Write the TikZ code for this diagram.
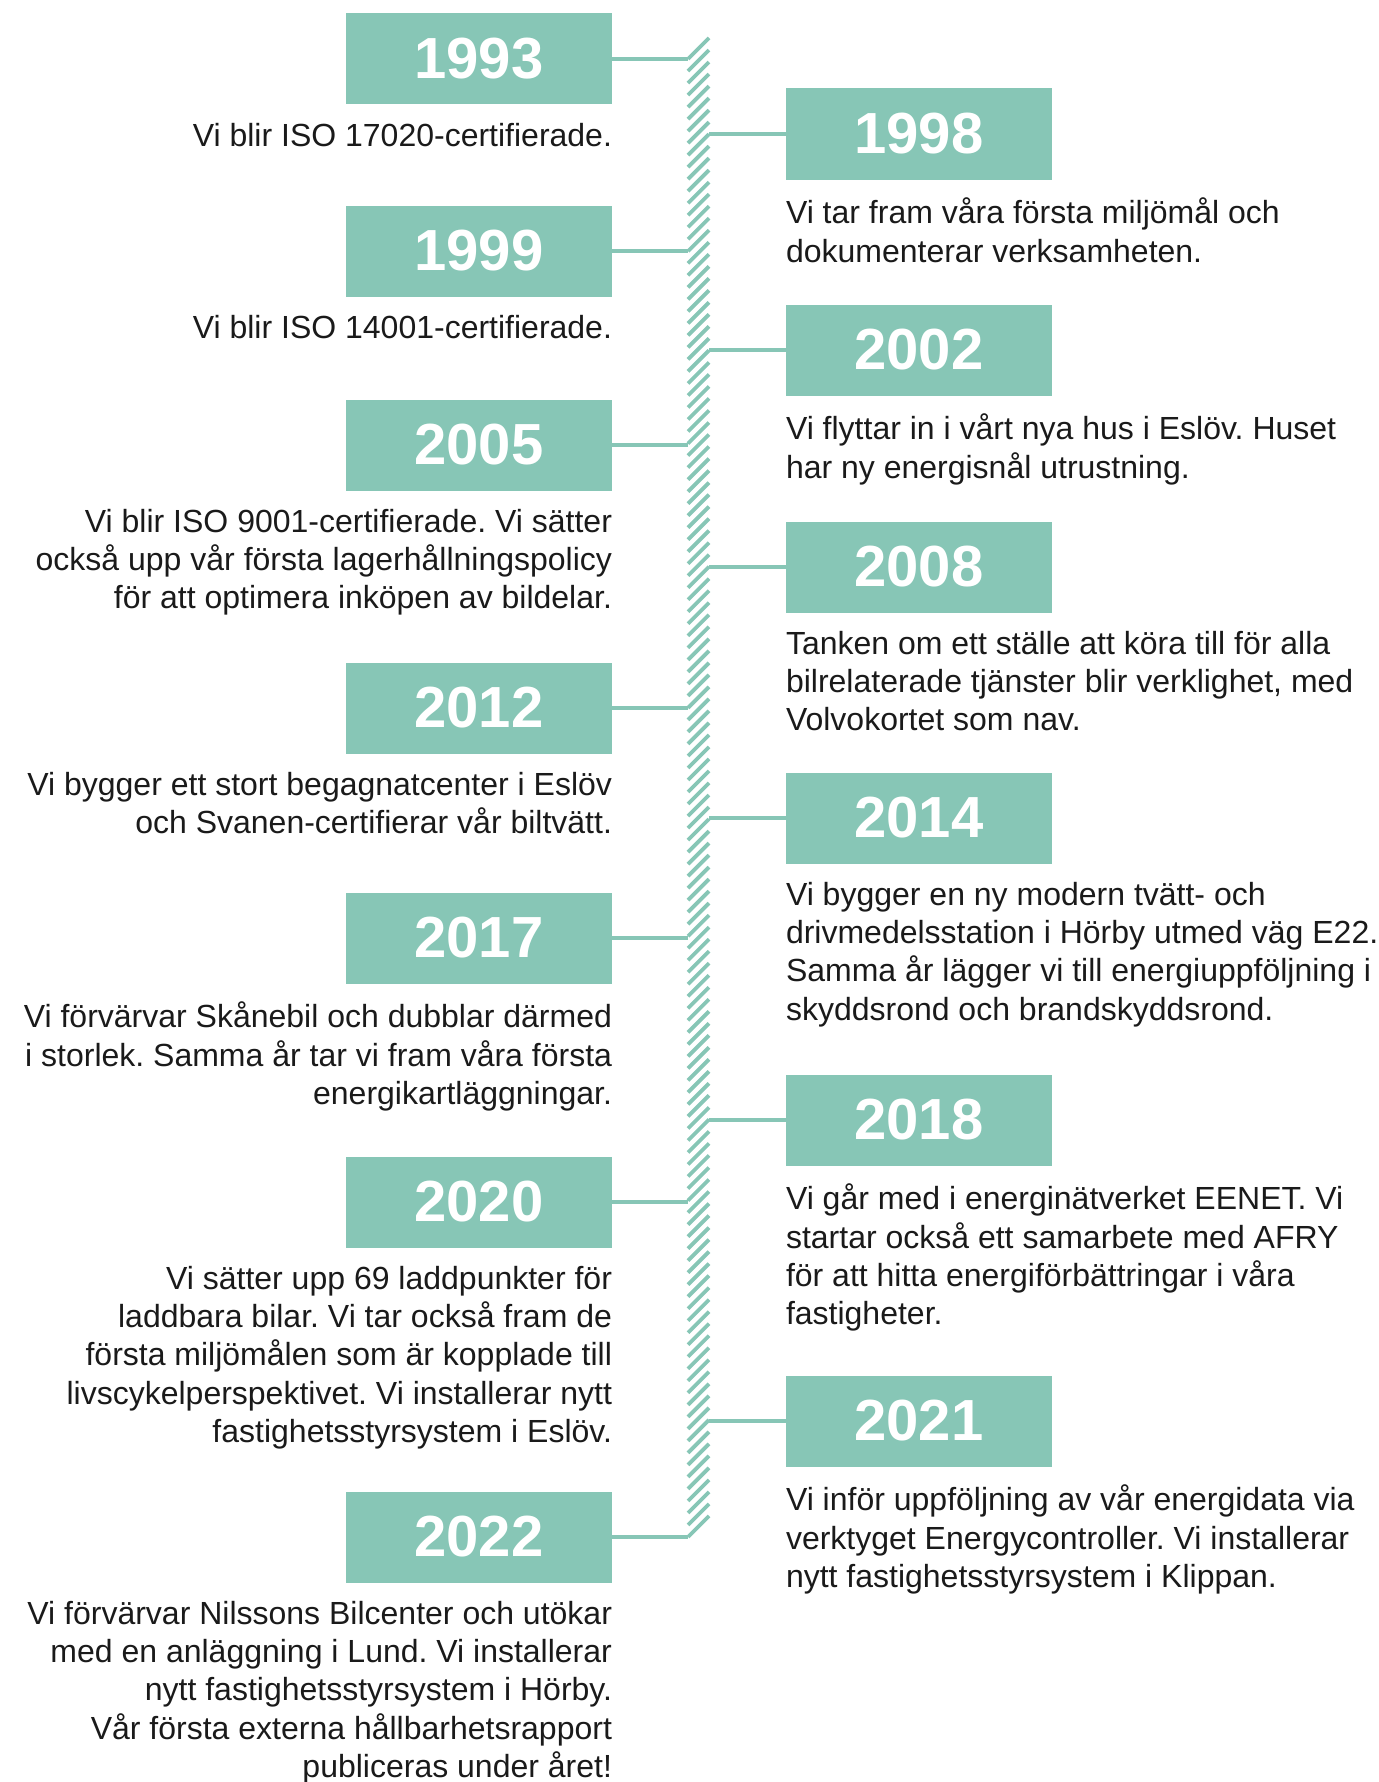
\documentclass[tikz,border=0pt]{standalone}
\usepackage{fontspec}
\setmainfont{Liberation Sans}
\usepackage{xcolor}
\definecolor{tealMain}{HTML}{87C6B6}
\definecolor{textDark}{HTML}{1A1A1A}
\usetikzlibrary{positioning,calc}
\frenchspacing
\tikzset{%
  yearBox/.style={%
    rectangle,
    fill=tealMain,
    minimum width=133pt,
    minimum height=45.5pt,
    inner sep=0pt,
    text=white,
    font=\fontsize{29pt}{29pt}\selectfont\bfseries
  },
  leftNote/.style={%
    inner sep=0pt,
    align=right,
    text=textDark,
    font=\fontsize{16pt}{19.2pt}\selectfont
  },
  rightNote/.style={%
    inner sep=0pt,
    align=left,
    text=textDark,
    font=\fontsize{16pt}{19.2pt}\selectfont
  },
  linkLine/.style={%
    draw=tealMain,
    line width=1.75pt
  },
  hatchLine/.style={%
    draw=tealMain,
    line width=1.9pt
  }
}

\begin{document}
\begin{tikzpicture}[x=0.5pt,y=-0.5pt,node distance=8.8pt]
            \useasboundingbox (0,0) rectangle (1379,1782);

            % hatched time bar
            \coordinate (barL) at (688,0);
            \coordinate (barR) at (709,0);
            \foreach \k in {0,...,123}
                \draw[hatchLine] ($(barL)+(0,59+12.016*\k)$) -- ($(barR)+(0,38+12.016*\k)$);

            % left side
            \node[yearBox] (y1993) at (479,59) {1993};
            \node[leftNote, below=of y1993.south east, anchor=north east] (t1993)
            {Vi blir ISO 17020-certifierade.};

            \node[yearBox] (y1999) at (479,251) {1999};
            \node[leftNote, below=of y1999.south east, anchor=north east] (t1999)
            {Vi blir ISO 14001-certifierade.};

            \node[yearBox] (y2005) at (479,445) {2005};
            \node[leftNote, below=of y2005.south east, anchor=north east] (t2005)
            {Vi blir ISO 9001-certifierade. Vi sätter\\
             också upp vår första lagerhållningspolicy\\
             för att optimera inköpen av bildelar.};

            \node[yearBox] (y2012) at (479,708) {2012};
            \node[leftNote, below=of y2012.south east, anchor=north east] (t2012)
            {Vi bygger ett stort begagnatcenter i Eslöv\\
             och Svanen-certifierar vår biltvätt.};

            \node[yearBox] (y2017) at (479,938) {2017};
            \node[leftNote, below=of y2017.south east, anchor=north east] (t2017)
            {Vi förvärvar Skånebil och dubblar därmed\\
             i storlek. Samma år tar vi fram våra första\\
             energikartläggningar.};

            \node[yearBox] (y2020) at (479,1202) {2020};
            \node[leftNote, below=of y2020.south east, anchor=north east] (t2020)
            {Vi sätter upp 69 laddpunkter för\\
             laddbara bilar. Vi tar också fram de\\
             första miljömålen som är kopplade till\\
             livscykelperspektivet. Vi installerar nytt\\
             fastighetsstyrsystem i Eslöv.};

            \node[yearBox] (y2022) at (479,1537) {2022};
            \node[leftNote, below=of y2022.south east, anchor=north east] (t2022)
            {Vi förvärvar Nilssons Bilcenter och utökar\\
             med en anläggning i Lund. Vi installerar\\
             nytt fastighetsstyrsystem i Hörby.\\
             Vår första externa hållbarhetsrapport\\
             publiceras under året!};

            % right side
            \node[yearBox] (y1998) at (919,134) {1998};
            \node[rightNote, below=of y1998.south west, anchor=north west] (t1998)
            {Vi tar fram våra första miljömål och\\
             dokumenterar verksamheten.};

            \node[yearBox] (y2002) at (919,350) {2002};
            \node[rightNote, below=of y2002.south west, anchor=north west] (t2002)
            {Vi flyttar in i vårt nya hus i Eslöv. Huset\\
             har ny energisnål utrustning.};

            \node[yearBox] (y2008) at (919,567) {2008};
            \node[rightNote, below=of y2008.south west, anchor=north west] (t2008)
            {Tanken om ett ställe att köra till för alla\\
             bilrelaterade tjänster blir verklighet, med\\
             Volvokortet som nav.};

            \node[yearBox] (y2014) at (919,818) {2014};
            \node[rightNote, below=of y2014.south west, anchor=north west] (t2014)
            {Vi bygger en ny modern tvätt- och\\
             drivmedelsstation i Hörby utmed väg E22.\\
             Samma år lägger vi till energiuppföljning i\\
             skyddsrond och brandskyddsrond.};

            \node[yearBox] (y2018) at (919,1120) {2018};
            \node[rightNote, below=of y2018.south west, anchor=north west] (t2018)
            {Vi går med i energinätverket EENET. Vi\\
             startar också ett samarbete med AFRY\\
             för att hitta energiförbättringar i våra\\
             fastigheter.};

            \node[yearBox] (y2021) at (919,1421) {2021};
            \node[rightNote, below=of y2021.south west, anchor=north west] (t2021)
            {Vi inför uppföljning av vår energidata via\\
             verktyget Energycontroller. Vi installerar\\
             nytt fastighetsstyrsystem i Klippan.};

            % connectors to the bar
            \foreach \yr in {1993,1999,2005,2012,2017,2020,2022}
                \draw[linkLine] (y\yr.east) -- (y\yr.east -| barL);
            \foreach \yr in {1998,2002,2008,2014,2018,2021}
                \draw[linkLine] (y\yr.west) -- (y\yr.west -| barR);

        \end{tikzpicture}
\end{document}
